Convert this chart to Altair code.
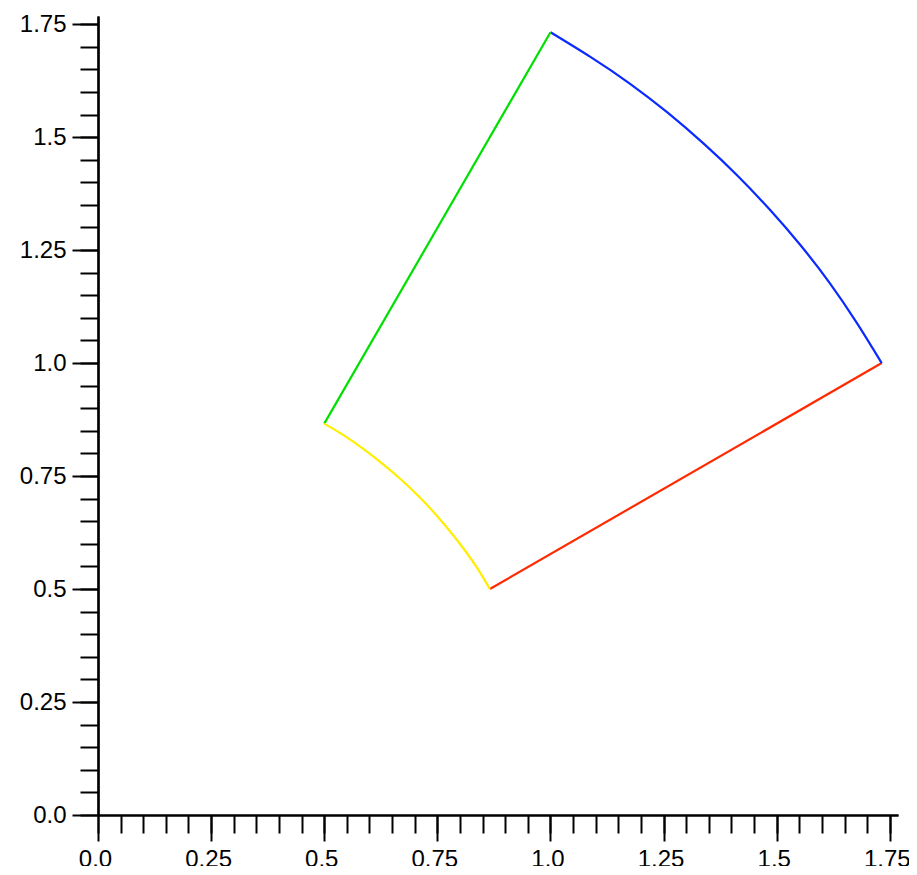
import altair as alt
import pandas as pd

# Boundary of the polar sector 1 <= r <= 2, 30deg <= theta <= 60deg
seg_names = ["red", "blue", "green", "yellow"]
seg_colors = ["#ff2a00", "#0a2aff", "#00e000", "#ffee00"]

red_x = [0.866, 1.732]
red_y = [0.500, 1.000]

blue_x = [1.732, 1.677, 1.618, 1.554, 1.486, 1.414, 1.338, 1.259, 1.176, 1.089, 1.000]
blue_y = [1.000, 1.089, 1.176, 1.259, 1.338, 1.414, 1.486, 1.554, 1.618, 1.677, 1.732]

green_x = [1.000, 0.500]
green_y = [1.732, 0.866]

yellow_x = [0.500, 0.545, 0.588, 0.629, 0.669, 0.707, 0.743, 0.777, 0.809, 0.839, 0.866]
yellow_y = [0.866, 0.839, 0.809, 0.777, 0.743, 0.707, 0.669, 0.629, 0.588, 0.545, 0.500]

major_ticks = [0.0, 0.25, 0.5, 0.75, 1.0, 1.25, 1.5, 1.75]
minor_ticks = [round(i * 0.05, 2) for i in range(0, 36)]

rows = []
for name, xs, ys in zip(seg_names, [red_x, blue_x, green_x, yellow_x], [red_y, blue_y, green_y, yellow_y]):
    for i, (xv, yv) in enumerate(zip(xs, ys)):
        rows.append({"seg": name, "i": i, "x": xv, "y": yv})
df = pd.DataFrame(rows)

dom = [0, 1.768]
label_expr = "datum.value % 1 == 0 ? format(datum.value, '.1f') : format(datum.value, '.2~f')"

base = alt.Chart(df)

lines = base.mark_line(strokeWidth=2.2, interpolate="natural").encode(
    x=alt.X("x:Q", scale=alt.Scale(domain=dom, nice=False, zero=False),
            axis=alt.Axis(orient="bottom", values=major_ticks, labelExpr=label_expr,
                          tickSize=26, labelPadding=6, labelOffset=-3, title=None,
                          labelFont="Liberation Sans", labelFontSize=24,
                          labelAlign="center", labelFlush=False, labelOverlap=False)),
    y=alt.Y("y:Q", scale=alt.Scale(domain=dom, nice=False, zero=False),
            axis=alt.Axis(orient="left", values=major_ticks, labelExpr=label_expr,
                          tickSize=26, labelPadding=6, title=None,
                          labelFont="Liberation Sans", labelFontSize=24,
                          labelAlign="right", labelBaseline="middle",
                          labelFlush=False, labelOverlap=False)),
    color=alt.Color("seg:N", scale=alt.Scale(domain=seg_names, range=seg_colors), legend=None),
    detail="seg:N",
    order="i:Q",
)

minor = base.mark_line(opacity=0).encode(
    x=alt.X("x:Q", scale=alt.Scale(domain=dom, nice=False, zero=False),
            axis=alt.Axis(orient="bottom", values=minor_ticks, labels=False,
                          tickSize=18, title=None)),
    y=alt.Y("y:Q", scale=alt.Scale(domain=dom, nice=False, zero=False),
            axis=alt.Axis(orient="left", values=minor_ticks, labels=False,
                          tickSize=18, title=None)),
    detail="seg:N",
    order="i:Q",
)

chart = alt.layer(minor, lines).resolve_axis(x="independent", y="independent").properties(
    width=800, height=799,
    autosize=alt.AutoSizeParams(type="none"),
    padding={"left": 90, "top": 8, "right": 11, "bottom": 51},
).configure_view(stroke=None).configure_axis(
    grid=False,
    domainColor="black", domainWidth=2.2,
    tickColor="black", tickWidth=2,
    labelColor="black",
)

chart.save("out.html", embed_options={"renderer": "svg", "actions": False})
